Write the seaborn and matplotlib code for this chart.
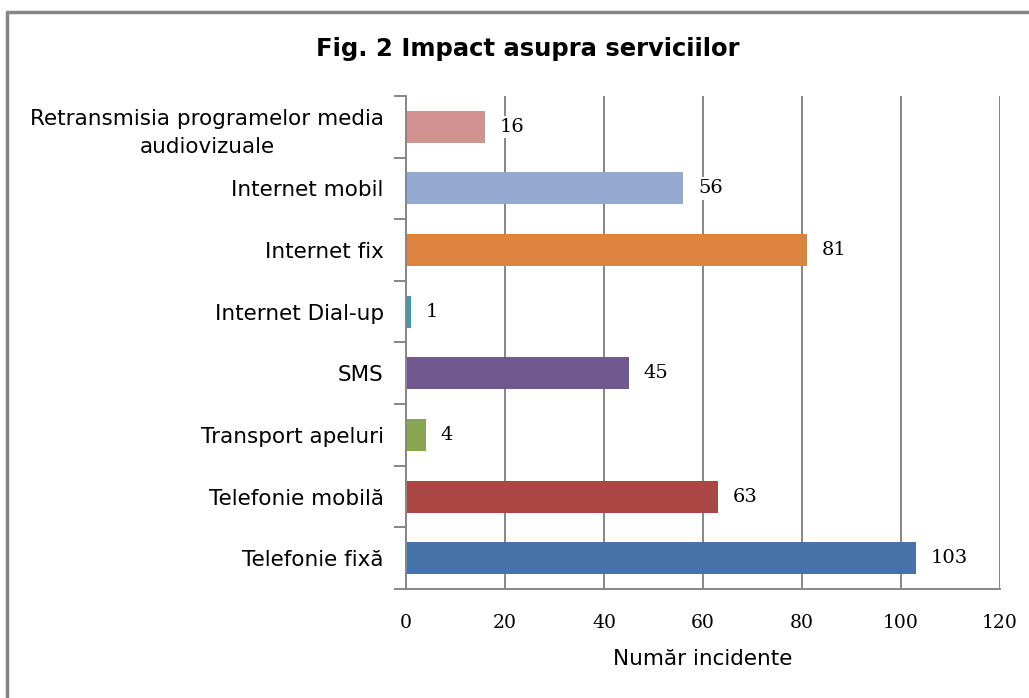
import matplotlib
matplotlib.use("Agg")
import matplotlib.pyplot as plt
from matplotlib.lines import Line2D
import seaborn as sns
import pandas as pd
import numpy as np

categories = [
    "Retransmisia programelor media\naudiovizuale",
    "Internet mobil",
    "Internet fix",
    "Internet Dial-up",
    "SMS",
    "Transport apeluri",
    "Telefonie mobilă",
    "Telefonie fixă",
]
values = [16, 56, 81, 1, 45, 4, 63, 103]
colors = ["#D19392", "#93A9CF", "#DB843D", "#4198AF", "#71588F", "#89A54E", "#AA4643", "#4572A7"]
xticks = [0, 20, 40, 60, 80, 100, 120]

title = "Fig. 2 Impact asupra serviciilor"
xlabel = "Număr incidente"

sns.set_theme(style="white")
plt.rcParams["font.family"] = ["DejaVu Sans"]
plt.rcParams["text.color"] = "black"
plt.rcParams["axes.labelcolor"] = "black"
plt.rcParams["xtick.labelcolor"] = "black"
plt.rcParams["ytick.labelcolor"] = "black"

df = pd.DataFrame({"cat": categories, "val": values})

fig = plt.figure(figsize=(10.29, 6.98), dpi=100)
ax = fig.add_axes([0.3946, 0.1562, 0.5772, 0.7063])

sns.barplot(data=df, y="cat", x="val", hue="cat", palette=colors, order=categories,
            hue_order=categories, orient="h", width=0.52, legend=False, ax=ax, saturation=1,
            linewidth=0)

gray = "#868686"
ax.set_xlim(0, 120)
ax.set_ylim(len(categories) - 0.5, -0.5)
ax.set_xticks(xticks)
ax.set_xticklabels([str(t) for t in xticks], family="DejaVu Serif", fontsize=13.5)
ax.xaxis.grid(True, color=gray, linewidth=1.4)
ax.set_axisbelow(True)
for s in ["top", "right"]:
    ax.spines[s].set_visible(False)
for s in ["left", "bottom"]:
    ax.spines[s].set_color(gray)
    ax.spines[s].set_linewidth(1.4)

ax.tick_params(axis="x", which="major", direction="out", length=9, width=1.4, color=gray, pad=9)
ax.tick_params(axis="y", which="major", length=0, pad=16, labelsize=15.5)
ax.set_yticks(np.arange(len(categories)))
ax.set_yticks(np.arange(len(categories) + 1) - 0.5, minor=True)
ax.tick_params(axis="y", which="minor", direction="out", length=9, width=1.4, color=gray, left=True)
for lbl in ax.get_yticklabels():
    lbl.set_multialignment("center")
    lbl.set_linespacing(1.5)

ax.set_ylabel("")
ax.set_xlabel(xlabel, fontsize=15.5, labelpad=12)

for i, v in enumerate(values):
    ax.text(v + 3, i, str(v), va="center", ha="left", family="DejaVu Serif", fontsize=14,
            bbox=dict(facecolor="white", edgecolor="none", pad=1.5))

fig.text(0.513, 0.93, title, ha="center", va="center", fontsize=17.5, fontweight="bold")

# outer frame (left and top edges visible)
fig.add_artist(Line2D([0.007, 0.007], [0.0, 0.983], transform=fig.transFigure, color=gray, linewidth=2.5))
fig.add_artist(Line2D([0.007, 1.0], [0.983, 0.983], transform=fig.transFigure, color=gray, linewidth=2.5))

fig.savefig("out.png", dpi=100, facecolor="white")
